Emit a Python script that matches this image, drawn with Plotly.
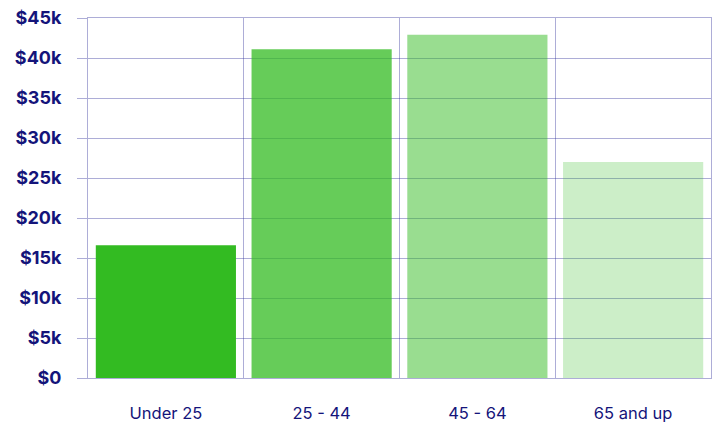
import plotly.graph_objects as go

categories = ["Under 25", "25 - 44", "45 - 64", "65 and up"]
values = [16.6, 41.1, 42.9, 27.0]
alphas = [1.0, 0.75, 0.5, 0.25]
y_ticks = [0, 5, 10, 15, 20, 25, 30, 35, 40, 45]
y_labels = ["$0", "$5k", "$10k", "$15k", "$20k", "$25k", "$30k", "$35k", "$40k", "$45k"]

navy = "#14147a"
grid = "rgba(40,40,150,0.38)"

fig = go.Figure(go.Bar(
    x=categories, y=values,
    marker=dict(color=[f"rgba(51,187,34,{a})" for a in alphas], line=dict(width=0)),
    hoverinfo="skip",
))

fig.update_layout(
    width=714, height=422,
    margin=dict(l=88, r=3, t=18, b=44),
    paper_bgcolor="white", plot_bgcolor="white",
    bargap=0.1, showlegend=False,
)
fig.update_xaxes(
    type="category", range=[-0.5, 3.5], tickson="boundaries",
    showgrid=True, gridcolor=grid, gridwidth=1,
    ticks="", showline=True, mirror=True, linecolor=grid, linewidth=1,
    zeroline=False, automargin=False,
    tickfont=dict(family="Inter", size=16.5, color=navy),
    ticklabelstandoff=20,
)
fig.update_yaxes(
    range=[0, 45], tickvals=y_ticks, ticktext=y_labels,
    showgrid=True, gridcolor=grid, gridwidth=1,
    ticks="outside", ticklen=10, tickcolor=grid, tickwidth=1,
    zeroline=False, showline=True, mirror=True, linecolor=grid, linewidth=1,
    automargin=False, ticklabeloverflow="allow",
    tickfont=dict(family="Inter", size=18, color=navy, weight="bold"),
    ticklabelstandoff=12,
)

fig.write_html(
    "out.html",
    config={"displayModeBar": False},
    post_script="document.body.style.margin='0';document.body.style.overflow='hidden';",
)
